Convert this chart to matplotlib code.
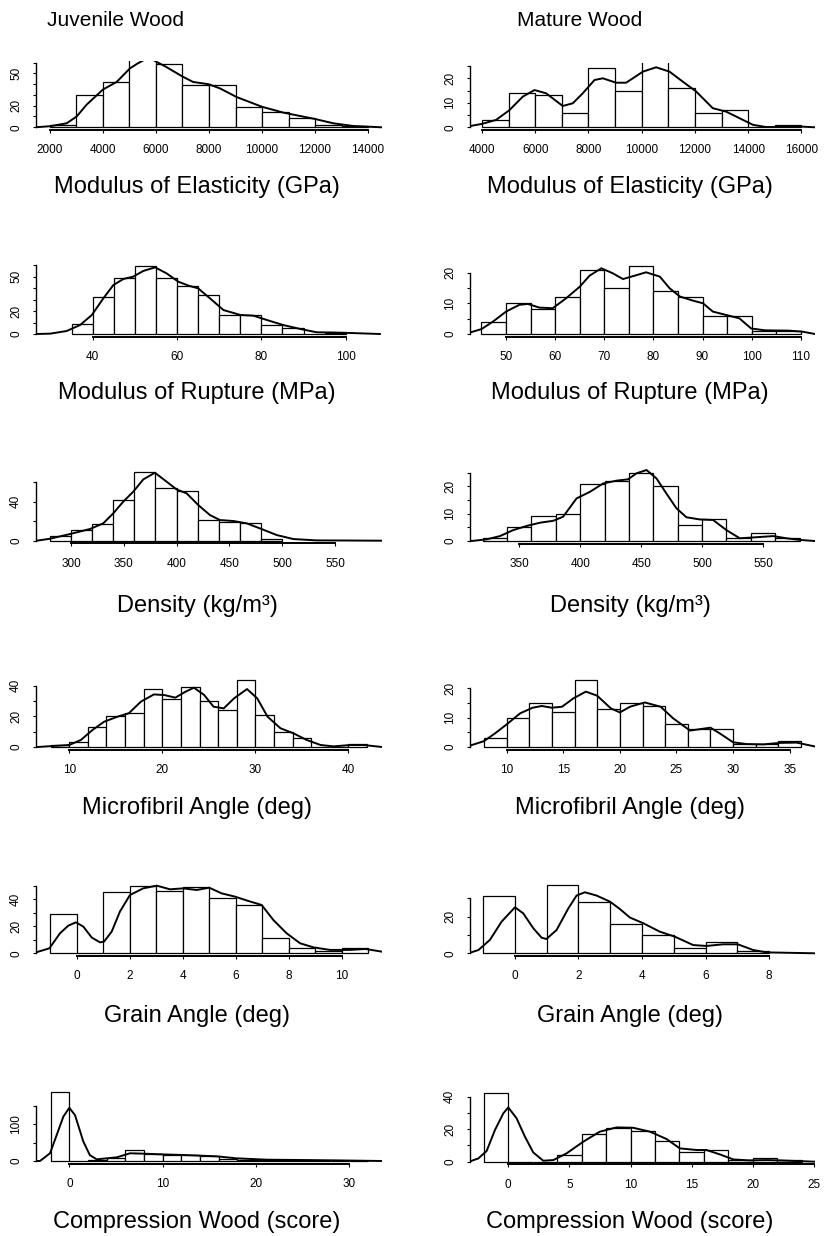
import numpy as np
import matplotlib
matplotlib.use('Agg')
from matplotlib import pyplot as plt

plt.rcParams['font.family'] = ['Liberation Sans', 'DejaVu Sans']

# ---------------- values ----------------
# Juvenile wood
moe_juv_counts = [2, 30, 42, 70, 59, 39, 39, 19, 14, 9, 2, 1]
moe_juv_cx = [1434, 2000, 2629, 3006, 3384, 4000, 4516, 5019, 5300, 5600, 5850, 6050, 6377,
              7000, 7400, 8000, 8415, 9044, 10000, 10805, 12000, 12692, 13447, 14516]
moe_juv_cy = [0, 1, 3.7, 10, 21, 35, 42, 54.6, 59, 63, 63, 60.2, 56,
              47, 42, 39.8, 36, 28, 19, 13.6, 7.7, 3.7, 1.2, 0]

mor_juv_counts = [9, 32, 49, 59, 49, 42, 34, 17, 17, 8, 5, 0, 1]
mor_juv_cx = [26.6, 29.9, 33.8, 37, 39.8, 42.5, 44.9, 47.3, 49.6, 52, 54.8, 57.5, 60.3,
              62.7, 65, 67.8, 71, 75, 78.1, 81.3, 85.2, 89.2, 93.1, 97.1, 101, 108.1]
mor_juv_cy = [0, 0.3, 2.6, 7.8, 16.6, 31, 42.7, 48, 50, 55, 58.1, 52.9, 45.6,
              42.2, 39.8, 31.1, 20.9, 16.6, 16, 12.2, 7.8, 4.4, 1.5, 1.3, 0.9, 0]

den_juv_counts = [5, 11, 17, 42, 70, 54, 51, 21, 19, 18, 2]
den_juv_cx = [267.5, 280, 299, 318, 330.6, 340, 349.5, 359, 368.5, 379.5, 390.6, 400,
              409.6, 420.5, 431.6, 441, 453.7, 466.4, 479, 494.8, 510.5, 532.7, 560, 594]
den_juv_cy = [0, 2, 6.8, 12, 17.8, 28, 40, 50.3, 62.9, 69.7, 60.5, 52.6,
              48.5, 36.6, 26.3, 21.2, 20.2, 17.8, 12.6, 5.8, 1.7, 0.3, 0.2, 0]

mfa_juv_counts = [1, 3, 13, 20, 22, 38, 31, 39, 30, 24, 44, 21, 10, 6, 0, 0, 2]
mfa_juv_cx = [6.6, 8.4, 10, 11.25, 12.5, 13.75, 15.2, 16.4, 17.7, 19.1, 20.2, 21.4, 22.5,
              23.4, 24.5, 25.5, 26.6, 27.7, 29.1, 30.2, 31.3, 32.7, 34.1, 35.5, 37,
              38.4, 40.2, 41.6, 43.6]
mfa_juv_cy = [0, 0.7, 1.3, 4.6, 11.1, 16.5, 19.8, 22, 29.6, 34.3, 33.9, 32.2, 36.1,
              38.7, 33.9, 26.3, 25.2, 31.7, 37.8, 31.7, 19.8, 12.2, 8.9, 4.6, 1.3,
              0.4, 1.3, 1.3, 0]

ga_juv_counts = [29, 0, 45, 50, 46, 49, 41, 36, 11, 4, 2, 4]
ga_juv_cx = [-1.57, -1.03, -0.63, -0.32, -0.03, 0.25, 0.57, 0.88, 1.03, 1.32, 1.63, 2.01,
             2.51, 3.02, 3.52, 4.02, 4.53, 5, 5.47, 5.97, 6.47, 6.98, 7.42, 7.92, 8.43,
             8.93, 9.56, 10.3, 10.9, 11.52]
ga_juv_cy = [0.5, 3.7, 14.8, 20.4, 22.9, 19.7, 11.6, 8.1, 8.6, 16, 30.8, 43.1,
             48, 50, 47.3, 48, 46.8, 48.5, 44.3, 41.9, 38.7, 35.7, 24.6, 14.8, 7.4,
             4.4, 2.5, 2.5, 3.2, 1.2]

cw_juv_counts = [187, 0, 3, 7, 30, 18, 16, 15, 14, 5, 4, 3, 2, 2, 1, 1, 1]
cw_juv_cx = [-3.57, -3.14, -2.07, -1.35, -0.64, 0, 0.61, 1.5, 2.2, 2.94, 4, 5.08, 6.5,
             7.93, 10, 12.6, 15.8, 17.9, 21.1, 24.7, 28.3, 33.5]
cw_juv_cy = [0, 0, 21, 71, 121, 145, 125, 53, 16, 4.5, 7.3, 10, 21,
             20, 18, 16, 12.7, 7.3, 3.6, 2.7, 1.8, 0]

# Mature wood
moe_mat_counts = [3, 14, 13, 6, 24, 15, 28, 16, 6, 7, 0, 1]
moe_mat_cx = [3549, 4000, 4526, 5030, 5530, 5970, 6406, 7033, 7410, 7786, 8226, 8538,
              9038, 9414, 10041, 10541, 11045, 11545, 12045, 12669, 13170, 13673,
              14180, 14677, 15300, 15977, 16508]
moe_mat_cy = [0.5, 1.4, 3, 7, 12.5, 15.2, 13.9, 8.7, 9.8, 13.9, 19.3, 20,
              18.2, 18.2, 22.7, 24.5, 22.7, 18.6, 14.6, 7.8, 6.4, 3.7,
              1, 0.1, 0.2, 0.3, 0]

mor_mat_counts = [4, 10, 8, 12, 21, 15, 22, 14, 12, 6, 6, 1, 1]
mor_mat_cx = [42.7, 45, 47.3, 50, 52.7, 54.4, 56.8, 59.5, 62.2, 65, 67, 69.4, 71.7,
              73.8, 76.2, 78.5, 81.3, 83.3, 85.4, 88, 90.1, 92.1, 94.8, 97.5, 99.9,
              102.7, 107.5, 110.2, 112.9]
mor_mat_cy = [0.5, 1.6, 4, 7.3, 9.5, 9.8, 8.6, 8.4, 11.6, 15.4, 19, 21.4, 19.8,
              17.9, 19, 20.1, 18.7, 14.9, 12.2, 10.9, 10, 7.3, 6.2, 5.1, 1.8,
              1.2, 1.1, 0.8, 0]

den_mat_counts = [1, 5, 9, 10, 21, 22, 25, 20, 6, 8, 1, 3, 1]
den_mat_cx = [310.9, 323.2, 334.2, 345.1, 356, 367, 377.9, 386, 397, 407.9, 418.9, 429.8,
              439.3, 446.2, 454.4, 462.6, 470.7, 478.9, 487.1, 498, 509, 519.9, 530.9,
              541.8, 558.2, 569.1, 580, 592.4]
den_mat_cy = [0, 0.6, 1.8, 4, 5.5, 6.7, 7.4, 8.9, 15.6, 18, 21.1, 22.1,
              22.6, 24.8, 26, 22.9, 17.4, 12, 8.7, 7.9, 7.7, 4, 1,
              1.3, 1.8, 1, 0.4, 0]

mfa_mat_counts = [3, 10, 15, 12, 23, 13, 15, 14, 8, 6, 6, 1, 1, 2]
mfa_mat_cx = [6.8, 8, 9, 10, 11.2, 12.3, 13.1, 14, 14.9, 15.9, 17, 18, 19.2, 20, 20.9,
              22.2, 23.6, 24.7, 26.2, 27.1, 28, 28.8, 30, 31.2, 32.7, 34.1, 35.6, 37.2]
mfa_mat_cy = [0.5, 2, 4.7, 7.7, 11.5, 13.4, 14, 13.4, 13.75, 16.6, 18.9, 17.5, 13.2,
              11.8, 13.75, 15.2, 13.75, 9.8, 5.6, 6.1, 6.6, 4.7, 1.6, 1, 0.9, 1.4,
              1.5, 0.2]

ga_mat_counts = [31, 0, 37, 28, 16, 10, 3, 6, 1]
ga_mat_cx = [-1.416, -1.15, -0.79, -0.42, 0, 0.26, 0.58, 0.84, 0.99, 1.31, 1.68, 1.94,
             2.2, 2.57, 2.99, 3.3, 3.62, 4.04, 4.56, 5.03, 5.61, 6.03, 6.55, 7.02,
             7.5, 7.92, 9.45]
ga_mat_cy = [0.3, 1.8, 7.3, 17.3, 25.1, 21.8, 13.6, 8.5, 7.8, 12.7, 24.5, 31.5,
             33.3, 31.5, 28.2, 24.2, 19.5, 16.4, 11.8, 9.1, 4.5, 4, 4.9, 4.9,
             1.8, 0.5, 0]

cw_mat_counts = [42, 0, 0, 4, 17, 21, 19, 13, 6, 7, 1, 2, 1]
cw_mat_cx = [-3.13, -2.45, -1.77, -1.09, -0.41, 0, 0.68, 1.36, 2.04, 2.86, 3.68, 4.76,
             6.13, 7.49, 8.85, 10.2, 11.58, 12.93, 14.03, 15.4, 16.2, 17.3, 18.4,
             19.7, 21.1, 22.2, 23.6, 25.08]
cw_mat_cy = [0.2, 2, 6.6, 19.5, 29.7, 33.4, 26.7, 15.4, 5.7, 0.6, 1, 5.1,
             12.3, 18.5, 21.1, 20.9, 18.5, 14, 8.2, 7.2, 7.2, 4.5, 1.4,
             0.8, 1, 0.8, 0.4, 0]

xlabels = ['Modulus of Elasticity (GPa)', 'Modulus of Rupture (MPa)', 'Density (kg/m\u00b3)',
           'Microfibril Angle (deg)', 'Grain Angle (deg)', 'Compression Wood (score)']
col_titles = ['Juvenile Wood', 'Mature Wood']

# ---------------- layout (pixel based, 826 x 1236) ----------------
W, H = 826, 1236
col_left = [36, 470]
col_right = [382, 815]
label_x = [197, 630]
label_y = [187, 393, 606, 808, 1016, 1222]

# (counts, bin start, bin width, curve x, curve y, xlim, baseline px, px per count,
#  ymax, xticks, yticks, shown y labels, row, col)
panels = [
    (moe_juv_counts, 2000, 1000, moe_juv_cx, moe_juv_cy, (1472, 14528), 127.3, 1.08, 59,
     np.arange(2000, 14001, 2000), np.arange(0, 61, 10), [0, 20, 50], 0, 0),
    (moe_mat_counts, 4000, 1000, moe_mat_cx, moe_mat_cy, (3549, 16508), 127.3, 2.45, 25.4,
     np.arange(4000, 16001, 2000), np.arange(0, 26, 5), [0, 10, 20], 0, 1),
    (mor_juv_counts, 35, 5, mor_juv_cx, mor_juv_cy, (26.55, 108.6), 334, 1.147, 60,
     np.arange(40, 101, 20), np.arange(0, 61, 10), [0, 20, 50], 1, 0),
    (mor_mat_counts, 45, 5, mor_mat_cx, mor_mat_cy, (42.66, 112.9), 334, 3.07, 22,
     np.arange(50, 111, 10), np.arange(0, 21, 5), [0, 10, 20], 1, 1),
    (den_juv_counts, 280, 20, den_juv_cx, den_juv_cy, (266.9, 594.5), 540.7, 0.975, 70,
     np.arange(300, 551, 50), np.arange(0, 61, 20), [0, 40], 2, 0),
    (den_mat_counts, 320, 20, den_mat_cx, den_mat_cy, (309.6, 592.6), 541, 2.73, 26,
     np.arange(350, 551, 50), np.arange(0, 26, 5), [0, 10, 20], 2, 1),
    (mfa_juv_counts, 8, 2, mfa_juv_cx, mfa_juv_cy, (6.43, 43.6), 747, 1.533, 44,
     np.arange(10, 41, 10), np.arange(0, 41, 10), [0, 20, 40], 3, 0),
    (mfa_mat_counts, 8, 2, mfa_mat_cx, mfa_mat_cy, (6.77, 37.23), 747, 2.93, 23,
     np.arange(10, 36, 5), np.arange(0, 21, 5), [0, 10, 20], 3, 1),
    (ga_juv_counts, -1, 1, ga_juv_cx, ga_juv_cy, (-1.536, 11.52), 953.3, 1.353, 50,
     np.arange(0, 11, 2), np.arange(0, 51, 10), [0, 20, 40], 4, 0),
    (ga_mat_counts, -1, 1, ga_mat_cx, ga_mat_cy, (-1.416, 9.447), 953.3, 1.833, 37,
     np.arange(0, 9, 2), np.arange(0, 31, 10), [0, 20], 4, 1),
    (cw_juv_counts, -2, 2, cw_juv_cx, cw_juv_cy, (-3.57, 33.5), 1161, 0.367, 187,
     np.arange(0, 31, 10), np.arange(0, 151, 50), [0, 100], 5, 0),
    (cw_mat_counts, -2, 2, cw_mat_cx, cw_mat_cy, (-3.13, 25.08), 1161.7, 1.625, 42,
     np.arange(0, 26, 5), np.arange(0, 41, 10), [0, 20, 40], 5, 1),
]

fig = plt.figure(figsize=(W / 100, H / 100), dpi=100)

for (counts, start, width, cx, cy, xlim, base, sy, ymax,
     xt, yt, ylab, row, col) in panels:
    top = base - 1.04 * ymax * sy
    bottom = base + 0.04 * ymax * sy
    left, right = col_left[col], col_right[col]
    ax = fig.add_axes([left / W, 1 - bottom / H, (right - left) / W, (bottom - top) / H])

    edges = start + width * np.arange(len(counts))
    ax.bar(edges, counts, width=width, align='edge', facecolor='white',
           edgecolor='black', linewidth=0.9)
    ax.plot(cx, cy, color='black', linewidth=1.4, solid_joinstyle='round')

    ax.set_xlim(*xlim)
    ax.set_ylim(-0.04 * ymax, 1.04 * ymax)

    ax.set_xticks(xt)
    ax.set_xticklabels([str(v) for v in xt])
    ax.set_yticks(yt)
    ax.set_yticklabels([str(v) if v in ylab else '' for v in yt],
                       rotation=90, va='center')

    for s in ['top', 'right']:
        ax.spines[s].set_visible(False)
    ax.spines['left'].set_bounds(0, yt[-1])
    ax.spines['bottom'].set_bounds(xt[0], xt[-1])
    ax.spines['left'].set_linewidth(1.0)
    ax.spines['bottom'].set_linewidth(1.4)
    ax.tick_params(direction='out', length=2.5, width=0.8, labelsize=8.5)
    ax.tick_params(axis='x', pad=7.8)
    ax.tick_params(axis='y', pad=7.5)
    ax.patch.set_visible(False)

    fig.text(label_x[col] / W, 1 - label_y[row] / H, xlabels[row],
             ha='center', va='center', fontsize=17)

fig.text(115 / W, 1 - 20 / H, col_titles[0], ha='center', va='center', fontsize=15)
fig.text(580 / W, 1 - 20 / H, col_titles[1], ha='center', va='center', fontsize=15)

fig.savefig('out.png', dpi=100)
